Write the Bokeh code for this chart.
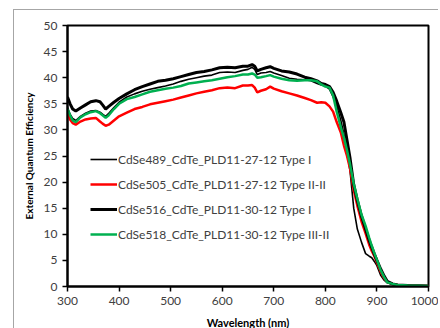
from bokeh.plotting import figure
from bokeh.models import Legend, LegendItem, FixedTicker
from bokeh.embed import file_html
from bokeh.resources import INLINE

wavelength = [300, 305, 310, 316, 325, 335, 345, 355, 363, 368,
              374, 380, 390, 400, 415, 430, 445, 460, 475, 490,
              505, 520, 535, 550, 565, 580, 595, 610, 625, 640,
              650, 658, 663, 668, 675, 685, 693, 700, 715, 730,
              745, 760, 772, 784, 792, 800, 808, 815, 822, 830,
              836, 842, 848, 855, 862, 870, 878, 885, 890, 895,
              900, 907, 914, 920, 930, 940, 960, 980, 1000]

eqe_489 = [34.3, 33.0, 32.2, 31.8, 32.6, 33.2, 33.6, 33.7, 33.4, 33.0,
           32.6, 33.2, 34.3, 35.3, 36.3, 36.9, 37.4, 37.8, 38.1, 38.4,
           38.8, 39.3, 39.7, 40.0, 40.3, 40.5, 41.0, 41.1, 41.0, 41.4,
           41.6, 42.0, 41.6, 40.6, 40.9, 41.0, 41.2, 40.9, 40.4, 39.9,
           39.7, 39.6, 39.4, 38.9, 38.6, 38.4, 37.8, 36.3, 34.6, 31.8,
           29.2, 26.0, 22.0, 15.0, 11.0, 8.5, 6.3, 5.8, 5.5, 4.8,
           4.0, 2.2, 1.2, 0.7, 0.4, 0.3, 0.2, 0.1, 0.1]

eqe_505 = [33.3, 32.0, 31.3, 31.0, 31.6, 32.0, 32.2, 32.3, 31.6, 31.2,
           30.8, 31.0, 31.8, 32.6, 33.3, 34.0, 34.4, 34.9, 35.2, 35.5,
           35.8, 36.2, 36.6, 37.0, 37.3, 37.6, 38.0, 38.1, 38.0, 38.5,
           38.5, 38.6, 38.1, 37.2, 37.5, 37.8, 38.3, 37.9, 37.4, 37.0,
           36.6, 36.1, 35.7, 35.2, 35.3, 35.2, 34.5, 33.5, 31.5, 29.5,
           27.0, 25.0, 22.5, 18.5, 15.5, 12.5, 10.2, 8.0, 6.8, 5.8,
           4.6, 2.9, 1.6, 0.9, 0.5, 0.3, 0.2, 0.15, 0.1]

eqe_516 = [36.3, 35.0, 34.0, 33.6, 34.2, 34.8, 35.4, 35.6, 35.4, 34.8,
           34.0, 34.5, 35.3, 36.0, 36.9, 37.7, 38.3, 38.8, 39.3, 39.5,
           39.8, 40.2, 40.6, 41.0, 41.2, 41.5, 41.9, 42.0, 41.9, 42.2,
           42.2, 42.5, 42.2, 41.3, 41.6, 41.9, 42.1, 41.8, 41.3, 41.1,
           40.7, 40.1, 39.8, 39.4, 38.9, 38.7, 38.3, 37.2, 35.5, 33.3,
           31.5, 28.0, 24.5, 19.5, 16.5, 13.5, 11.0, 8.8, 7.5, 6.2,
           5.0, 3.4, 2.0, 1.0, 0.5, 0.3, 0.2, 0.15, 0.1]

eqe_518 = [34.0, 32.8, 31.8, 31.5, 32.4, 33.0, 33.4, 33.6, 33.2, 32.8,
           32.3, 32.8, 34.0, 35.0, 35.9, 36.3, 36.8, 37.3, 37.6, 37.9,
           38.1, 38.4, 38.9, 39.1, 39.3, 39.5, 39.8, 40.1, 40.3, 40.6,
           40.6, 40.8, 40.6, 40.0, 40.1, 40.3, 40.5, 40.2, 39.8, 39.5,
           39.4, 39.5, 39.5, 39.3, 38.7, 38.3, 38.1, 36.6, 33.5, 30.5,
           28.5, 26.1, 23.3, 19.7, 16.8, 13.8, 11.6, 9.3, 7.8, 6.4,
           5.1, 3.2, 1.8, 0.8, 0.5, 0.3, 0.2, 0.15, 0.1]

labels = ["CdSe489_CdTe_PLD11-27-12 Type I",
          "CdSe505_CdTe_PLD11-27-12 Type II-II",
          "CdSe516_CdTe_PLD11-30-12 Type I",
          "CdSe518_CdTe_PLD11-30-12 Type III-II"]

x_ticks = [300, 400, 500, 600, 700, 800, 900, 1000]
y_ticks = [0, 5, 10, 15, 20, 25, 30, 35, 40, 45, 50]

FONT = "Lato"
TXT = "#404040"

p = figure(frame_width=361, frame_height=261, output_backend="svg",
           toolbar_location=None, x_range=(300, 1000), y_range=(0, 50),
           min_border_left=53, min_border_top=15, min_border_right=10,
           min_border_bottom=40)
p.margin = (9, 0, 0, 13)
p.styles = {"border-left": "1px solid #a6a6a6", "border-top": "1px solid #a6a6a6"}

p.xgrid.visible = False
p.ygrid.visible = False
p.outline_line_color = "black"
p.outline_line_width = 2
p.background_fill_color = "white"
p.border_fill_color = "white"

specs = [(eqe_489, "black", 1.6), (eqe_505, "#ff0000", 2.5),
         (eqe_516, "black", 3), (eqe_518, "#00b050", 2.5)]
renderers = []
for vals, col, w in specs:
    r = p.line(wavelength, vals, line_color=col, line_width=w)
    renderers.append(r)

for ax in (p.xaxis[0], p.yaxis[0]):
    ax.axis_line_color = "black"
    ax.axis_line_width = 2
    ax.major_tick_line_color = "black"
    ax.major_tick_line_width = 1.5
    ax.major_tick_out = 5
    ax.major_tick_in = 0
    ax.minor_tick_line_color = None
    ax.major_label_text_font = FONT
    ax.major_label_text_font_size = "12px"
    ax.major_label_text_color = TXT
    ax.axis_label_text_font = FONT
    ax.axis_label_text_font_style = "bold"
    ax.axis_label_text_color = "black"

p.xaxis.ticker = FixedTicker(ticks=x_ticks)
p.yaxis.ticker = FixedTicker(ticks=y_ticks)
p.xaxis.axis_label = "Wavelength (nm)"
p.yaxis.axis_label = "External Quantum Efficiency"
p.xaxis.axis_label_text_font_size = "11px"
p.yaxis.axis_label_text_font_size = "10px"
p.xaxis.major_label_standoff = 5
p.yaxis.major_label_standoff = 5
p.xaxis.axis_label_standoff = 8
p.yaxis.axis_label_standoff = 6

legend = Legend(items=[LegendItem(label=l, renderers=[r]) for l, r in zip(labels, renderers)],
                location=(23, 42), orientation="vertical")
legend.border_line_color = None
legend.background_fill_alpha = 0
legend.padding = 0
legend.margin = 0
legend.spacing = 5
legend.glyph_width = 27
legend.glyph_height = 20
legend.label_height = 20
legend.label_standoff = 1
legend.label_text_font = FONT
legend.label_text_font_size = "12px"
legend.label_text_color = TXT
p.add_layout(legend)

open("out.html", "w").write(file_html(p, INLINE))
